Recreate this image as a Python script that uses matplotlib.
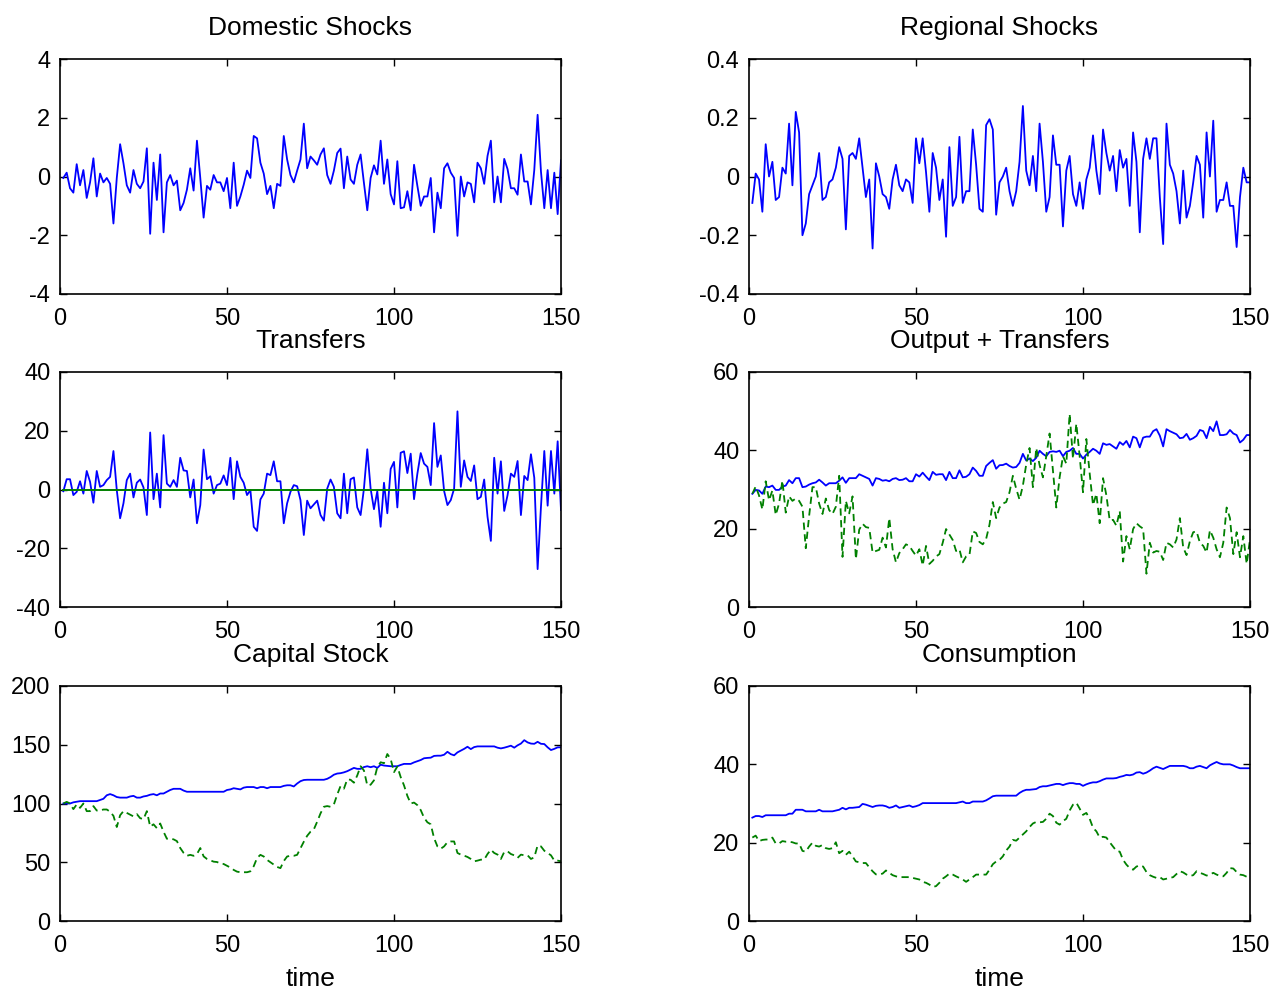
import numpy as np
from matplotlib import pyplot as plt

plt.rcParams['font.family'] = ['Liberation Sans', 'DejaVu Sans']
plt.rcParams['axes.unicode_minus'] = False

t = np.arange(1, 151)

domestic = [
    -0.05, 0.13, -0.4, -0.55, 0.42, -0.3, 0.22, -0.73, -0.2, 0.62,
    -0.68, 0.1, -0.2, -0.05, -0.25, -1.6, -0.05, 1.1, 0.45, -0.3,
    -0.55, 0.22, -0.25, -0.4, -0.17, 0.96, -1.95, 0.47, -0.8, 0.75,
    -1.9, -0.2, 0.05, -0.3, -0.14, -1.15, -0.9, -0.45, 0.28, -0.48,
    1.22, -0.05, -1.4, -0.32, -0.45, 0.05, -0.2, -0.2, -0.5, -0.05,
    -1.08, 0.47, -1.0, -0.68, -0.28, 0.2, -0.05, 1.38, 1.3, 0.47,
    0.1, -0.6, -0.32, -1.08, -0.25, -0.32, 1.38, 0.58, 0.05, -0.2,
    0.2, 0.58, 1.8,
    0.28, 0.68, 0.55, 0.4, 0.75, 0.96, 0.05, -0.25, 0.2, 0.8,
    0.95, -0.4, 0.68, -0.1, -0.25, 0.4, 0.75, -0.22, -1.15, -0.05,
    0.38, 0.07, 1.22, -0.25, 0.58, -0.6, -0.95, 0.52, -1.08, -1.05,
    -0.5, -1.15, 0.4, -0.32, -1.0, -0.68, -0.68, -0.05, -1.9, -0.55,
    -1.08, 0.28, 0.45, 0.13, -0.05, -2.02, 0.0, -0.68, -0.2, -0.25,
    -0.88, 0.47, 0.28, -0.25, 0.7, 1.22, -0.88, 0.0, -0.88, 0.6,
    0.25, -0.4, -0.4, -0.62, 0.75, -0.17, -0.17, -0.95, 0.22, 2.1,
    0.17, -1.08, 0.22, -1.08, 0.13, -1.28, 0.55]

regional = [
    -0.09, 0.01, -0.01, -0.12, 0.11, 0.0, 0.05, -0.08, -0.07, 0.03,
    0.01, 0.18, -0.03, 0.22, 0.15, -0.2, -0.16, -0.06, -0.03, 0.0,
    0.08, -0.08, -0.07, -0.02, -0.01, 0.03, 0.1, 0.06, -0.18, 0.07,
    0.08, 0.06, 0.13, 0.03, -0.07, -0.01, -0.245, 0.045, 0.0, -0.06,
    -0.07, -0.11, -0.01, 0.04, -0.03, -0.05, -0.01, -0.02, -0.09, 0.13,
    0.045, 0.13, 0.015, -0.12, 0.08, 0.03, -0.08, -0.01, -0.205, 0.1,
    -0.1, -0.07, 0.135, -0.09, -0.05, -0.05, 0.16, 0.04, -0.11, -0.12,
    0.175, 0.195, 0.16, -0.13, -0.02, 0.0,
    0.03, -0.05, -0.10, -0.05, 0.05, 0.24, 0.02, -0.03, 0.07, -0.05,
    0.18, 0.05, -0.12, -0.07, 0.14, 0.04, 0.04, -0.17, 0.02, 0.07,
    -0.06, -0.10, -0.02, -0.11, -0.01, 0.03, 0.14, 0.02, -0.06, 0.16,
    0.08, 0.02, 0.07, -0.05, 0.09, 0.03, 0.06, -0.10, 0.15, 0.05,
    -0.19, 0.06, 0.13, 0.06, 0.13, 0.13, -0.07, -0.23, 0.18, 0.04,
    0.01, -0.05, -0.16, 0.02, -0.14, -0.10, -0.02, 0.07, 0.04, -0.14,
    0.15, 0.0, 0.19, -0.12, -0.08, -0.08, -0.02, -0.10, -0.10, -0.24,
    -0.07, 0.03, -0.02, -0.02]

transfers = [
    -0.6, 3.5, 3.5, -1.9, -0.8, 2.8, -1.4, 6.3, 2.6, -4.5,
    6.3, 0.9, 1.5, 3.2, 4.3, 13.1, -0.2, -9.8, -4.7, 3.2,
    5.4, -2.7, 2.3, 3.4, 0.7, -8.7, 19.4, -3.3, 5.4, -6.1,
    18.5, 2.0, 0.9, 3.2, 0.9, 10.8, 6.5, 6.3, -2.7, 3.4,
    -11.5, -5.3, 13.6, 3.5, 4.5, -1.4, 1.5, 2.0, 4.8, 1.5,
    10.8, -3.3, 9.6, 4.3, 2.3, -1.9, -0.2, -12.7, -14.1, -3.4,
    -1.4, 5.4, 4.9, 9.6, 2.8, 2.8, -11.5, -4.7, -0.8, 1.5,
    1.1, -3.6, -15.5, -3.8, -6.4, -5.1,
    -3.8, -8.7, -10.6, 0.3, 3.4, 0.9, -8.1, -9.8, 5.4, -8.1,
    3.5, 4.1, -6.1, -8.7, 0.3, 13.7, 0.3, -6.7, -0.6, -12.7,
    2.3, -8.1, 7.0, 9.4, -6.1, 12.5, 13.0, 5.6, 12.2, -3.3,
    5.4, 12.4, 8.8, 7.7, 1.5, 22.6, 7.7, 11.6, -0.5, -5.3,
    -3.6, 0.3, 26.6, 0.9, 9.9, 4.3, 2.9, 8.2, -3.3, -2.5,
    3.4, -9.3, -17.5, 10.8, -1.4, 9.6, -7.3, -1.9, 5.4, 4.3,
    9.7, -8.7, 4.6, 3.2, 12.0, 4.0, -27.1, -5.9, 13.1, -5.5,
    13.1, -1.4, 16.4, -7.0]
transfers_total = np.zeros(len(t))

output_plus = [
    28.9, 29.9, 29.75, 28.9, 30.75, 30.6, 31.0, 29.9, 29.9, 30.75,
    31.0, 32.4, 31.6, 32.9, 32.9, 30.6, 30.75, 31.25, 31.6, 31.8,
    32.5, 31.8, 31.0, 31.6, 31.6, 31.6, 32.25, 33.1, 31.7, 32.9,
    32.9, 32.9, 33.9, 33.5, 33.1, 32.7, 31.0, 32.9, 32.7, 32.25,
    32.4, 32.1, 32.7, 32.9, 32.4, 32.5, 32.9, 32.1, 32.1, 33.9,
    33.3, 34.3, 33.3, 32.4, 34.5, 33.75, 33.9, 33.9, 32.4, 34.5,
    32.9, 32.9, 34.9, 33.1, 33.25, 33.9, 35.6, 34.75, 33.5, 33.5,
    36.0, 36.8, 37.5, 35.3, 36.2, 36.25,
    36.6, 36.0, 35.6, 35.75, 36.8, 39.1, 37.4, 37.9, 37.25, 38.1,
    39.9, 39.1, 38.5, 39.6, 39.75, 39.6, 39.9, 38.5, 39.6, 39.9,
    40.6, 39.1, 39.1, 37.9, 38.9, 39.6, 40.4, 39.9, 39.1, 41.8,
    41.4, 41.6, 41.0, 40.4, 42.1, 41.4, 42.4, 40.75, 43.5, 43.1,
    40.75, 43.25, 43.5, 43.5, 44.9, 45.4, 43.75, 41.0, 45.4, 44.9,
    44.5, 44.1, 43.1, 43.25, 44.2, 42.7, 43.1, 43.7, 45.2, 44.9,
    43.1, 46.0, 44.9, 47.4, 43.9, 43.9, 44.1, 45.2, 44.3, 43.9,
    42.0, 42.7, 43.9, 43.9]

output_only = [
    28.9, 30.75, 28.5, 24.9, 32.1, 27.25, 29.75, 23.5, 26.4, 32.25,
    24.1, 28.25, 27.1, 27.7, 27.1, 25.6, 15.0, 23.25, 30.6, 30.6,
    26.4, 23.75, 27.7, 24.75, 23.75, 25.6, 33.5, 12.8, 27.1, 23.9,
    28.25, 12.25, 19.75, 21.25, 20.4, 20.2, 13.9, 14.3, 14.6, 17.7,
    15.2, 22.7, 14.75, 11.4, 13.75, 14.75, 16.0, 15.6, 14.3, 13.1,
    14.75, 10.6, 15.6, 11.0, 11.8, 12.9, 13.5, 16.4, 19.9, 18.5,
    17.1, 14.3, 14.75, 11.4, 12.9, 13.25, 19.3, 18.9, 16.6, 16.0,
    17.4, 21.0, 26.8, 22.7, 25.4, 26.4,
    26.8, 29.3, 33.5, 30.2, 27.4, 31.0, 36.4, 40.6, 30.6, 40.6,
    36.25, 33.1, 38.5, 44.3, 34.9, 25.4, 33.1, 38.5, 36.6, 49.3,
    37.9, 46.8, 38.5, 29.3, 42.9, 34.1, 26.0, 28.9, 21.4, 32.9,
    28.5, 22.1, 22.25, 20.75, 24.5, 11.6, 18.1, 14.75, 19.9, 21.4,
    20.6, 20.0, 8.5, 16.4, 13.9, 14.3, 14.1, 12.0, 16.4, 16.0,
    15.2, 17.25, 22.7, 15.2, 13.25, 16.8, 19.1, 19.3, 16.4, 15.6,
    13.9, 19.6, 17.7, 14.75, 12.7, 16.4, 25.4, 22.7, 13.5, 19.1,
    12.7, 18.1, 11.0, 17.25]

capital_union = [
    100, 100, 100, 101, 101.5, 102, 102, 102, 102, 102,
    102, 103, 104, 107, 108, 107, 105.5, 105, 105, 105,
    106, 106.5, 105, 105, 106, 106.5, 107.5, 108, 107, 108.5,
    108.5, 110, 111.5, 112.5, 112.5, 112.5, 111, 110, 110, 110,
    110, 110, 110, 110, 110, 110, 110, 110, 110, 111.5,
    112, 113, 112.5, 112, 113.5, 114, 114, 114, 113, 114,
    114, 113, 114, 114, 114, 114, 115, 115.5, 115.5, 114.5,
    117, 119, 120, 120.2, 120.2, 120.2,
    120.2, 120.2, 120.2, 121, 122.5, 124.5, 125.5, 125.8, 126.5, 127.5,
    128.9, 130.3, 129.5, 129.5, 131, 131.7, 130.9, 131.7, 130.3, 133,
    132.3, 132, 131.7, 131.7, 131.7, 132.8, 133.7, 133.7, 133.7, 135,
    136, 137, 138.5, 138.8, 139, 140.5, 140.7, 140.7, 141.5, 144,
    142, 141, 143.5, 145, 146.5, 148.3, 146.3, 148, 148.6, 148.6,
    148.6, 148.6, 148.6, 148.6, 147.5, 146.9, 147.5, 148.3, 149.2, 147.5,
    149.5, 151, 153.9, 152, 151, 150.8, 152.5, 150.8, 150.6, 147.8,
    145.5, 146.5, 147.8, 147.8]

capital_alone = [
    100, 101.4, 100, 95.2, 99.2, 96.3, 100, 93.5, 93.5, 97.8,
    94, 94, 94.9, 94.9, 93, 89.5, 80, 90, 93.5, 92,
    90.5, 89, 91, 87.5, 86.7, 93.5, 80.3, 82.3, 79, 83,
    76, 70, 70, 69.5, 68, 62.1, 58, 55.5, 56.3, 55.5,
    57, 62.1, 55, 52.8, 51.6, 50.5, 50.2, 49, 48.5, 47,
    45.5, 43.5, 42, 41.5, 41.5, 41.5, 42.3, 46.6, 53.6, 56.3,
    54.9, 52, 50, 48, 46, 45, 51, 54.9, 55.5, 55.5,
    56.3, 62, 67.5, 72.5, 76, 78,
    84.5, 91.6, 97.2, 97.8, 97.2, 99.2, 107.6, 114.9, 112.6, 120.5,
    120.2, 117.7, 123.9, 131.7, 128.1, 115.4, 116, 119.7, 130.9, 135.1,
    134.3, 142.1, 137.9, 126.7, 131.5, 122.5, 115.4, 106.5, 100, 100.8,
    98.6, 94.4, 87.9, 84, 82.3, 70.5, 63.5, 61.5, 63.5, 67.1,
    67.7, 67.7, 57.9, 56.5, 55.6, 54.5, 52.8, 50.8, 51.4, 52.2,
    52.2, 57, 60.7, 57.9, 56.5, 52.8, 58.7, 59.3, 57, 55.9,
    53.7, 56.5, 55.9, 55.9, 52.8, 54.2, 64.3, 63.5, 59.8, 57.9,
    55.9, 51.4, 51.4, 50.8]

consumption_union = [
    26.4, 26.8, 26.8, 26.55, 27.0, 27.0, 27.0, 27.0, 27.0, 27.0,
    27.0, 27.4, 27.4, 28.4, 28.4, 28.4, 28.0, 28.0, 28.0, 28.0,
    28.4, 28.0, 28.0, 28.0, 28.0, 28.2, 28.4, 28.9, 28.5, 28.9,
    28.9, 29.0, 29.1, 29.9, 29.7, 29.4, 29.1, 29.4, 29.5, 29.5,
    29.3, 28.9, 29.1, 29.5, 28.9, 29.1, 29.3, 29.5, 29.1, 29.3,
    29.6, 30.1, 30.1, 30.1, 30.1, 30.1, 30.1, 30.1, 30.1, 30.1,
    30.1, 30.1, 30.3, 30.5, 30.1, 30.1, 30.5, 30.5, 30.5, 30.5,
    30.8, 31.3, 31.85, 32.0, 32.0, 32.0,
    32.0, 32.0, 32.0, 32.0, 32.7, 33.2, 33.5, 33.5, 33.6, 33.7,
    34.2, 34.4, 34.4, 34.6, 34.8, 35.0, 35.0, 34.7, 35.0, 35.2,
    35.2, 35.0, 35.0, 34.5, 34.9, 35.2, 35.4, 35.4, 35.7, 36.1,
    36.4, 36.4, 36.4, 36.5, 36.8, 37.0, 37.3, 37.2, 37.4, 37.9,
    38.0, 37.6, 37.9, 38.4, 39.0, 39.4, 39.1, 38.8, 39.2, 39.6,
    39.6, 39.6, 39.6, 39.6, 39.4, 39.0, 39.0, 39.4, 39.6, 39.3,
    39.0, 39.75, 40.2, 40.6, 40.2, 40.0, 40.0, 40.0, 39.7, 39.3,
    39.0, 39.0, 39.0, 39.0]

consumption_alone = [
    21.3, 21.8, 20.4, 20.7, 20.8, 20.8, 21.3, 19.8, 19.8, 20.4,
    20.25, 20.25, 20.1, 19.8, 19.8, 17.9, 17.7, 19.0, 20.0, 19.2,
    19.0, 19.4, 18.6, 18.4, 18.6, 20.1, 17.3, 17.9, 16.9, 17.7,
    16.5, 15.2, 15.0, 14.8, 14.8, 13.7, 12.7, 11.9, 11.9, 12.1,
    12.9, 12.3, 11.7, 11.4, 11.2, 11.2, 11.2, 11.2, 11.0, 10.8,
    10.6, 10.0, 9.75, 9.3, 8.7, 8.9, 9.75, 10.8, 11.4, 12.1,
    11.85, 11.4, 11.0, 10.6, 10.0, 10.6, 11.2, 11.85, 11.85, 11.85,
    11.85, 13.1, 14.5, 15.2, 15.6, 16.5,
    18.0, 19.0, 20.7, 20.5, 21.3, 22.1, 22.9, 24.0, 24.9, 25.3,
    25.2, 25.3, 26.1, 27.4, 26.8, 25.1, 24.6, 25.5, 26.1, 28.2,
    29.7, 30.2, 28.7, 27.1, 27.6, 26.1, 23.8, 22.9, 21.3, 21.5,
    21.3, 20.1, 19.0, 17.9, 17.7, 15.6, 14.4, 13.5, 13.1, 13.9,
    14.2, 13.9, 12.5, 11.7, 11.3, 11.0, 11.2, 10.6, 10.8, 11.0,
    11.2, 12.0, 12.7, 12.4, 11.85, 11.5, 11.7, 12.7, 12.3, 12.0,
    11.6, 11.85, 12.3, 11.85, 11.5, 11.4, 12.3, 13.5, 13.4, 12.5,
    11.85, 11.7, 11.3, 11.0]

x_ticks = [0, 50, 100, 150]


def setup(ax, title, yticks, ylabels, xlabel=None):
    ax.set_xlim(0, 150)
    ax.set_ylim(yticks[0], yticks[-1])
    ax.set_xticks(x_ticks)
    ax.set_yticks(yticks)
    ax.set_yticklabels(ylabels)
    ax.tick_params(direction='in', top=True, right=True, length=5, width=1,
                   labelsize=17)
    ax.tick_params(axis='x', pad=10)
    ax.tick_params(axis='y', pad=7)
    for s in ax.spines.values():
        s.set_linewidth(1.2)
    ax.set_title(title, fontsize=19, pad=17.5)
    if xlabel:
        ax.set_xlabel(xlabel, fontsize=19, labelpad=7.5)


fig = plt.figure(figsize=(12.78, 9.92), dpi=100)
lefts = [60 / 1278, 749 / 1278]
bottoms = [1 - 294 / 992, 1 - 607 / 992, 1 - 921 / 992]
w = 501 / 1278
h = 235 / 992
axs = [[fig.add_axes([l, b, w, h]) for l in lefts] for b in bottoms]

blue = '#0000ff'
green = '#008000'
dash = dict(ls=(0, (4, 2.5)))

ax = axs[0][0]
ax.plot(t, domestic, c=blue, lw=1.3)
setup(ax, 'Domestic Shocks', [-4, -2, 0, 2, 4], ['-4', '-2', '0', '2', '4'])

ax = axs[0][1]
ax.plot(t, regional, c=blue, lw=1.3)
setup(ax, 'Regional Shocks', [-0.4, -0.2, 0, 0.2, 0.4], ['-0.4', '-0.2', '0', '0.2', '0.4'])

ax = axs[1][0]
ax.plot(t, transfers, c=blue, lw=1.3)
ax.plot(t, transfers_total, c=green, lw=1.4)
setup(ax, 'Transfers', [-40, -20, 0, 20, 40], ['-40', '-20', '0', '20', '40'])

ax = axs[1][1]
ax.plot(t, output_plus, c=blue, lw=1.3)
ax.plot(t, output_only, c=green, lw=1.3, **dash)
setup(ax, 'Output + Transfers', [0, 20, 40, 60], ['0', '20', '40', '60'])

ax = axs[2][0]
ax.plot(t, capital_union, c=blue, lw=1.3)
ax.plot(t, capital_alone, c=green, lw=1.3, **dash)
setup(ax, 'Capital Stock', [0, 50, 100, 150, 200], ['0', '50', '100', '150', '200'], 'time')

ax = axs[2][1]
ax.plot(t, consumption_union, c=blue, lw=1.3)
ax.plot(t, consumption_alone, c=green, lw=1.3, **dash)
setup(ax, 'Consumption', [0, 20, 40, 60], ['0', '20', '40', '60'], 'time')

plt.savefig('out.png', dpi=100)
